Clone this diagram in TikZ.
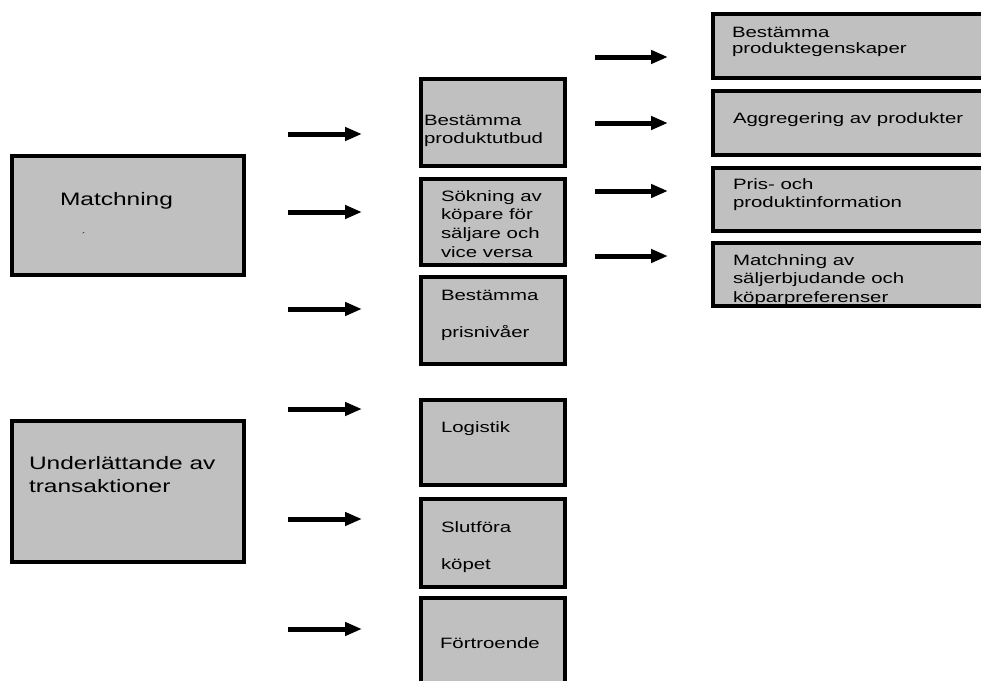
\documentclass[tikz,border=0pt]{standalone}
\usepackage{fontspec}
\setmainfont[FakeStretch=1.36]{Liberation Sans}
\usetikzlibrary{arrows.meta}
\definecolor{boxgray}{HTML}{C0C0C0}
\newcommand\boxlines[1]{\begin{tabular}[t]{@{}l@{}}#1\end{tabular}}
\tikzset{
  box/.style={draw=black, fill=boxgray, line width=3.5pt, rectangle, inner sep=0pt, outer sep=0pt},
  txt/.style={anchor=base west, inner sep=0pt, outer sep=0pt,
    font=\fontsize{15}{18.7}\selectfont},
  bigtxt/.style={anchor=base west, inner sep=0pt, outer sep=0pt,
    font=\fontsize{18}{23}\selectfont},
  arr/.style={line width=5pt, -{Triangle[length=17pt,width=13pt]}}
}
\begin{document}
\begin{tikzpicture}[x=1pt,y=-1pt]
\useasboundingbox (0,0) rectangle (981,680);
\clip (0,0) rectangle (981,680);

% main functions
\node[box, minimum width=232pt, minimum height=119pt] (match) at (128,215.5) {};
\node[box, minimum width=232pt, minimum height=141pt] (under) at (128,491.5) {};
\node[bigtxt] (match-t) at (60,205) {Matchning};
\node[anchor=base west, inner sep=0pt, font=\fontsize{8}{8}\selectfont] (match-mark) at (82,238) {´};
\node[bigtxt] (under-t) at (29,469) {\boxlines{Underlättande av\\transaktioner}};

% middle column
\node[box, minimum width=144pt, minimum height=87pt] (utbud) at (493,122.5) {};
\node[box, minimum width=144pt, minimum height=86pt] (sok) at (493,222) {};
\node[box, minimum width=144pt, minimum height=87pt] (pris) at (493,320.5) {};
\node[box, minimum width=144pt, minimum height=85pt] (logi) at (493,442.5) {};
\node[box, minimum width=144pt, minimum height=88pt] (slut) at (493,543) {};
\node[box, minimum width=144pt, minimum height=94pt] (fort) at (493,645) {};

\node[txt] (utbud-t) at (424,125) {\boxlines{Bestämma\\produktutbud}};
\node[txt] (sok-t) at (441,201) {\boxlines{Sökning av\\köpare för\\säljare och\\vice versa}};
\node[txt] (pris-t) at (441,300) {\boxlines{Bestämma\\[18.5pt]prisnivåer}};
\node[txt] (logi-t) at (441,432) {Logistik};
\node[txt] (slut-t) at (441,532) {\boxlines{Slutföra\\[18.5pt]köpet}};
\node[txt] (fort-t) at (440,648) {Förtroende};

% right column
\node[box, minimum width=282pt, minimum height=64pt] (egen) at (854,46) {};
\node[box, minimum width=282pt, minimum height=64pt] (aggr) at (854,123) {};
\node[box, minimum width=282pt, minimum height=63pt] (info) at (854,199.5) {};
\node[box, minimum width=282pt, minimum height=63pt] (pref) at (854,274.5) {};

\node[txt] (egen-t) at (732,37) {\boxlines{Bestämma\\[-2.7pt]produktegenskaper}};
\node[txt] (aggr-t) at (733,123) {Aggregering av produkter};
\node[txt] (info-t) at (733,189) {\boxlines{Pris- och\\produktinformation}};
\node[txt] (pref-t) at (733,265) {\boxlines{Matchning av\\säljerbjudande och\\köparpreferenser}};

% arrows towards the middle column
\foreach \i/\y in {1/134, 2/212, 3/309, 4/409, 5/519, 6/629} {
  \coordinate (m\i s) at (288,\y);
  \coordinate (m\i e) at (362,\y);
  \draw[arr] (m\i s) -- (m\i e);
}
% arrows towards the right column
\foreach \i/\y in {1/57, 2/123, 3/191, 4/256} {
  \coordinate (r\i s) at (595,\y);
  \coordinate (r\i e) at (668,\y);
  \draw[arr] (r\i s) -- (r\i e);
}
\end{tikzpicture}
\end{document}
